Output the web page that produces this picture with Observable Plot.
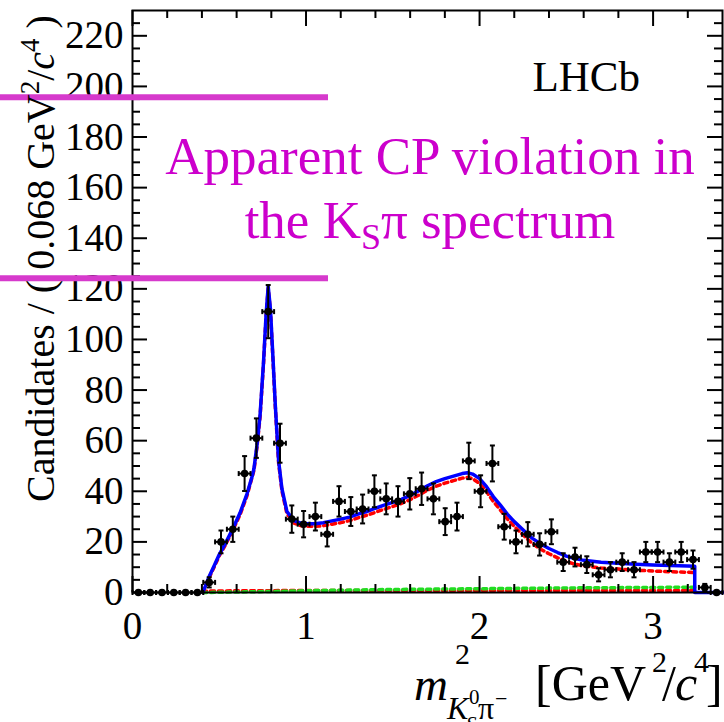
<!DOCTYPE html>
<html><head><meta charset="utf-8">
<script src="https://cdn.jsdelivr.net/npm/d3@7"></script>
<script src="https://cdn.jsdelivr.net/npm/@observablehq/plot@0.6"></script>
<style>html,body{margin:0;padding:0;background:#fff;overflow:hidden}</style>
</head><body><div id="chart"></div>
<script>
// ---- data ----
const binCenters = [0.034,0.102,0.170,0.238,0.306,0.374,0.442,0.510,0.578,0.646,0.714,0.782,0.850,0.918,0.986,1.054,1.122,1.190,1.258,1.326,1.394,1.462,1.530,1.598,1.666,1.734,1.802,1.870,1.938,2.006,2.074,2.142,2.210,2.278,2.346,2.414,2.482,2.550,2.618,2.686,2.754,2.822,2.890,2.958,3.026,3.094,3.162,3.230,3.298,3.366];
const counts = [0,0,0,0,0,0,4,20,25,47,61,111,59,29,27,30,23,36,32,33,40,37,36,39,41,37,28,30,52,40,51,26,20,23,19,24,12,14,11,7,9,12,9,16,16,12,16,13,2,0];
const errors = [0,0,0,0,0,0,2,4.5,5,6.9,7.8,10.5,7.7,5.4,5.2,5.5,4.8,6,5.7,5.7,6.3,6.1,6,6.2,6.4,6.1,5.3,5.5,7.2,6.3,7.1,5.1,4.5,4.8,4.4,4.9,3.5,3.7,3.3,2.6,3,3.5,3,4,4,3.5,4,3.6,1.4,0];
const halfBin = 0.034;

const fitTotal = [[0.405,0],[0.42,2.5],[0.44,6],[0.47,10.5],[0.50,15],[0.54,20],[0.58,25.5],[0.62,31.5],[0.66,39],[0.69,46],[0.70,49],[0.717,58],[0.735,70],[0.755,91],[0.77,110],[0.782,121],[0.795,112],[0.81,92],[0.823,74],[0.842,52],[0.861,41],[0.89,32],[0.93,28.4],[0.97,27.4],[1.00,27.2],[1.05,27.2],[1.10,27.6],[1.15,28.3],[1.20,29],[1.25,29.8],[1.30,31],[1.35,32],[1.40,33.3],[1.45,34.5],[1.50,35.6],[1.55,36.8],[1.60,38.4],[1.65,40.2],[1.70,42.2],[1.75,43.8],[1.80,45],[1.85,46],[1.90,47],[1.93,47.3],[1.96,46.8],[2.00,45],[2.04,41.8],[2.08,37.8],[2.12,34.5],[2.16,31],[2.20,28],[2.25,24.8],[2.30,21.6],[2.35,19.3],[2.40,17.4],[2.45,15.8],[2.50,14.4],[2.55,13.4],[2.60,12.7],[2.70,12],[2.80,11.6],[2.90,11.2],[3.00,10.9],[3.10,10.7],[3.20,10.5],[3.24,10.4],[3.24,0],[3.40,0]];
const fitSignal = [[0.405,0],[0.42,2.3],[0.44,5.6],[0.47,10],[0.50,14.5],[0.54,19.4],[0.58,24.9],[0.62,30.8],[0.66,38.3],[0.70,48.3],[0.717,57.3],[0.735,69.3],[0.755,90.3],[0.77,109.3],[0.782,120.2],[0.795,111.2],[0.81,91.2],[0.823,73.2],[0.842,51.2],[0.861,40.2],[0.89,31.1],[0.93,27.4],[0.97,26.4],[1.00,26.2],[1.05,26.1],[1.10,26.4],[1.15,27.0],[1.20,27.6],[1.25,28.4],[1.30,29.5],[1.35,30.5],[1.40,31.7],[1.45,32.9],[1.50,34.0],[1.55,35.2],[1.60,36.7],[1.65,38.5],[1.70,40.4],[1.75,42.0],[1.80,43.2],[1.85,44.2],[1.90,45.2],[1.93,45.5],[1.96,45.0],[2.00,43.1],[2.04,39.9],[2.08,35.9],[2.12,32.6],[2.16,29.1],[2.20,26.1],[2.25,22.8],[2.30,19.6],[2.35,17.2],[2.40,15.3],[2.45,13.7],[2.50,12.2],[2.55,11.2],[2.60,10.5],[2.70,9.7],[2.80,9.3],[2.90,8.8],[3.00,8.5],[3.10,8.2],[3.20,8.0],[3.24,7.9]];
const fitBkgRed = [[0.405,0],[0.43,0.6],[1.0,0.8],[2.0,0.8],[3.24,0.8]];
const fitBkgGreen = [[0.405,0],[0.6,0.2],[0.8,0.4],[1.0,0.7],[1.2,0.9],[1.5,1.2],[2.0,1.5],[2.5,1.8],[3.0,2.0],[3.24,2.1]];

const xMajor = [0,1,2,3];
const xMinor = [0.2,0.4,0.6,0.8,1.2,1.4,1.6,1.8,2.2,2.4,2.6,2.8,3.2];
const yMajor = [0,20,40,60,80,100,120,140,160,180,200,220];
const yMinor = [5,10,15,25,30,35,45,50,55,65,70,75,85,90,95,105,110,115,125,130,135,145,150,155,165,170,175,185,190,195,205,210,215,225];

const annotLinesY = [195.7, 124.2];
const annotText1 = "Apparent CP violation in";
const annotTextPos = {x: 1.717, y1: 165.2, y2: 140};
const lhcbPos = {x: 2.617, y: 198};

// ---- layout ----
const W = 724, H = 722, mL = 132, mR = 2, mT = 10, mB = 130;
const pW = W - mL - mR, pH = H - mT - mB;
const serif = "'Liberation Serif','Times New Roman',Times,serif";

const pts = binCenters.map((x, i) => ({x, y: counts[i], e: errors[i]}));
const ptsE = pts.filter(d => d.e > 0);

const capH = {draw(ctx){ctx.moveTo(-2.5,0);ctx.lineTo(2.5,0);}};
const capV = {draw(ctx){ctx.moveTo(0,-2.5);ctx.lineTo(0,2.5);}};

const plot = Plot.plot({
  width: W, height: H, marginLeft: mL, marginRight: mR, marginTop: mT, marginBottom: mB,
  style: {fontFamily: serif, fontSize: "39px", background: "#fff", color: "#000"},
  x: {domain: [0, 3.4]},
  y: {domain: [0, 230]},
  marks: [
    Plot.axisX({ticks: xMajor, tickSize: 0, tickPadding: 19, label: null, tickFormat: d => String(d), fontSize: 39}),
    Plot.axisY({ticks: yMajor, tickSize: 0, tickPadding: 9, label: null, tickFormat: d => String(d), fontSize: 39}),
    // fit curves
    Plot.line(fitBkgRed, {x: d => d[0], y: d => d[1], stroke: "#ff0000", strokeWidth: 3.5, strokeDasharray: "4,4"}),
    Plot.line(fitBkgGreen, {x: d => d[0], y: d => d[1], stroke: "#22dd22", strokeWidth: 3.5, strokeDasharray: "4,4"}),
    Plot.line(fitSignal, {x: d => d[0], y: d => d[1], stroke: "#ff0000", strokeWidth: 3.5, strokeDasharray: "4,4"}),
    Plot.line(fitTotal, {x: d => d[0], y: d => d[1], stroke: "#0000ff", strokeWidth: 3.5}),
    // frame and ticks
    Plot.frame({stroke: "#000", strokeWidth: 2}),
    Plot.tickY(yMajor, {y: d => d, insetRight: pW - 15, strokeWidth: 2}),
    Plot.tickY(yMinor, {y: d => d, insetRight: pW - 8, strokeWidth: 2}),
    Plot.tickY(yMajor, {y: d => d, insetLeft: pW - 15, strokeWidth: 2}),
    Plot.tickY(yMinor, {y: d => d, insetLeft: pW - 8, strokeWidth: 2}),
    Plot.tickX(xMajor, {x: d => d, insetTop: pH - 16, strokeWidth: 2}),
    Plot.tickX(xMinor, {x: d => d, insetTop: pH - 8, strokeWidth: 2}),
    Plot.tickX(xMajor, {x: d => d, insetBottom: pH - 16, strokeWidth: 2}),
    Plot.tickX(xMinor, {x: d => d, insetBottom: pH - 8, strokeWidth: 2}),
    // data with error bars
    Plot.ruleY(pts, {y: "y", x1: d => d.x - halfBin, x2: d => d.x + halfBin, stroke: "#000", strokeWidth: 2}),
    Plot.ruleX(ptsE, {x: "x", y1: d => d.y - d.e, y2: d => d.y + d.e, stroke: "#000", strokeWidth: 2}),
    Plot.dot(ptsE, {x: "x", y: d => d.y + d.e, symbol: capH, stroke: "#000", strokeWidth: 2, fill: "none"}),
    Plot.dot(ptsE, {x: "x", y: d => d.y - d.e, symbol: capH, stroke: "#000", strokeWidth: 2, fill: "none"}),
    Plot.dot(pts, {x: d => d.x - halfBin, y: "y", symbol: capV, stroke: "#000", strokeWidth: 2, fill: "none"}),
    Plot.dot(pts, {x: d => d.x + halfBin, y: "y", symbol: capV, stroke: "#000", strokeWidth: 2, fill: "none"}),
    Plot.dot(pts, {x: "x", y: "y", r: 3.8, fill: "#000", stroke: "none"}),
    // annotation lines
    Plot.ruleY(annotLinesY, {y: d => d, insetLeft: -mL, insetRight: pW - 196, stroke: "#d63acc", strokeWidth: 6})
  ]
});
document.getElementById("chart").appendChild(plot);

const sx = plot.scale("x"), sy = plot.scale("y");
const svg = d3.select(plot);
const g = svg.append("g").attr("font-family", serif).attr("text-anchor", "start");

// LHCb label
g.append("text").attr("x", sx.apply(lhcbPos.x)).attr("y", sy.apply(lhcbPos.y))
  .attr("text-anchor", "middle").attr("font-size", 43).attr("fill", "#000").text("LHCb");

// magenta annotation
const ax = sx.apply(annotTextPos.x);
g.append("text").attr("x", ax).attr("y", sy.apply(annotTextPos.y1))
  .attr("text-anchor", "middle").attr("font-size", 53).attr("fill", "#cc00cc").text(annotText1);
const t2 = g.append("text").attr("x", ax).attr("y", sy.apply(annotTextPos.y2))
  .attr("text-anchor", "middle").attr("font-size", 53).attr("fill", "#cc00cc");
t2.append("tspan").text("the K");
t2.append("tspan").attr("font-size", 36).attr("dy", 11).text("S");
t2.append("tspan").attr("dy", -11).text("π spectrum");

// y-axis title (rotated)
const yt = g.append("text").attr("transform", "translate(54,502) rotate(-90)")
  .attr("text-anchor", "start").attr("font-size", 40).attr("fill", "#000");
yt.append("tspan").text("Candidates / ( 0.068 GeV");
yt.append("tspan").attr("font-size", 27).attr("dy", -15).text("2");
yt.append("tspan").attr("dy", 15).text("/");
yt.append("tspan").attr("font-style", "italic").text("c");
yt.append("tspan").attr("font-size", 27).attr("dy", -15).text("4");
yt.append("tspan").attr("dy", 15).text(" )");

// x-axis title
const xt = g.append("g").attr("fill", "#000").attr("text-anchor", "start");
const put = (x, y, size, txt, italic) => xt.append("text").attr("x", x).attr("y", y)
  .attr("text-anchor", "start")
  .attr("font-size", size).attr("font-style", italic ? "italic" : "normal").text(txt);
put(414, 700, 47, "m", true);
put(455, 664, 30, "2");
put(447, 719, 32, "K", true);
put(469, 704, 21, "0");
put(466, 731, 21, "S", true);
put(478, 719, 32, "π");
put(495, 706, 22, "−");
put(535, 700, 50, "[GeV");
put(652, 672, 30, "2");
put(662, 700, 50, "/");
put(675, 700, 50, "c", true);
put(694, 672, 30, "4");
put(706, 700, 50, "]");
</script>
</body></html>
